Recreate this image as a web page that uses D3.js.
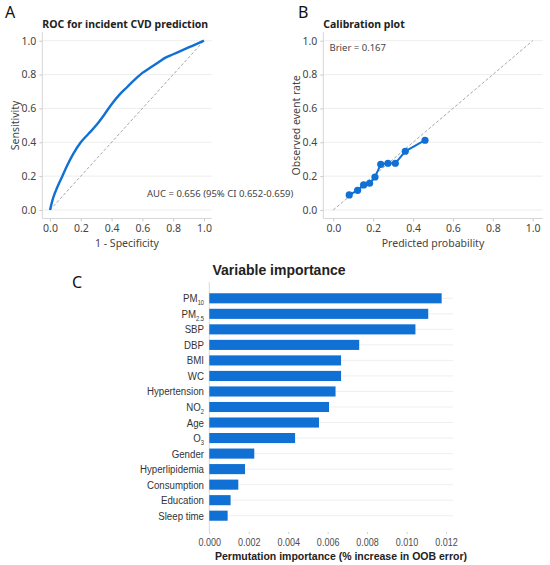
<!DOCTYPE html>
<html>
<head>
<meta charset="utf-8">
<script src="https://cdn.jsdelivr.net/npm/d3@7"></script>
<style>
  body { margin: 0; background: #fff; }
  svg { display: block; }
</style>
</head>
<body>
<div id="chart"></div>
<script>
// data
var rocFpr = [0, 0.02, 0.05, 0.08, 0.11, 0.15, 0.20, 0.25, 0.30, 0.35, 0.40, 0.45, 0.50, 0.55, 0.60, 0.65, 0.70, 0.75, 0.80, 0.85, 0.90, 0.95, 1];
var rocTpr = [0, 0.07, 0.14, 0.20, 0.26, 0.33, 0.40, 0.45, 0.50, 0.56, 0.625, 0.68, 0.725, 0.77, 0.81, 0.84, 0.87, 0.90, 0.92, 0.94, 0.96, 0.98, 1];

var calPred = [0.080, 0.122, 0.152, 0.182, 0.209, 0.238, 0.274, 0.311, 0.361, 0.460];
var calObs = [0.089, 0.116, 0.148, 0.158, 0.195, 0.270, 0.276, 0.276, 0.347, 0.412];

var unitTicks = [0, 0.2, 0.4, 0.6, 0.8, 1.0];

// variable importance (name + subscript)
var varNames = ["PM", "PM", "SBP", "DBP", "BMI", "WC", "Hypertension", "NO", "Age", "O", "Gender", "Hyperlipidemia", "Consumption", "Education", "Sleep time"];
var varSubs = ["10", "2.5", "", "", "", "", "", "2", "", "3", "", "", "", "", ""];
var varImportance = [0.01178, 0.0111, 0.01045, 0.0076, 0.00668, 0.00668, 0.0064, 0.00607, 0.00556, 0.00435, 0.00228, 0.00181, 0.00147, 0.00108, 0.00093];
var impTicks = [0, 0.002, 0.004, 0.006, 0.008, 0.010, 0.012];

var blue = "#1170d3";
var uiFont = "'Noto Sans', 'Open Sans', sans-serif";
var arial = "'Liberation Sans', Arial, sans-serif";

var svg = d3.select("#chart")
  .append("svg")
  .attr("width", 550)
  .attr("height", 565);

// frame shared by the two small panels
function smallPanel(x0, x1, opts) {
  var g = svg.append("g");
  var x = d3.scaleLinear().domain([0, 1]).range([x0, x1]);
  var y = d3.scaleLinear().domain([0, 1]).range([210, 40.7]);
  var padX = (x1 - x0) * 0.05;
  var padY = (210 - 40.7) * 0.05;
  var left = x0 - padX, right = x1 + padX, top = 40.7 - padY, bottom = 210 + padY;

  // gridlines
  g.selectAll(".grid")
    .data(unitTicks)
    .enter()
    .append("line")
    .attr("x1", left)
    .attr("x2", right)
    .attr("y1", d => y(d))
    .attr("y2", d => y(d))
    .attr("stroke", "#e9e9e9")
    .attr("stroke-width", 0.8);

  var leftAxis = d3.axisLeft(y).tickValues(unitTicks).tickFormat(d3.format(".1f")).tickSize(3).tickPadding(3);
  var bottomAxis = d3.axisBottom(x).tickValues(unitTicks).tickFormat(d3.format(".1f")).tickSize(3).tickPadding(3);

  var ya = g.append("g").attr("transform", `translate(${left},0)`).call(leftAxis);
  var xa = g.append("g").attr("transform", `translate(0,${bottom})`).call(bottomAxis);
  [ya, xa].forEach(function(a) {
    a.select(".domain").remove();
    a.selectAll("line").attr("stroke", "#c8c8c8");
    a.selectAll("text")
      .attr("fill", "#444")
      .style("font-family", uiFont)
      .style("font-size", "10.5px");
  });

  g.append("line")
    .attr("x1", left).attr("x2", left)
    .attr("y1", top).attr("y2", bottom)
    .attr("stroke", "#d6d6d6");
  g.append("line")
    .attr("x1", left).attr("x2", right)
    .attr("y1", bottom).attr("y2", bottom)
    .attr("stroke", "#d6d6d6");

  // reference diagonal
  g.append("line")
    .attr("x1", x(0)).attr("y1", y(0))
    .attr("x2", x(1)).attr("y2", y(1))
    .attr("stroke", "#8f8f8f")
    .attr("stroke-width", 0.8)
    .attr("stroke-dasharray", "3,2");

  // labels
  g.append("text")
    .attr("x", opts.letterX).attr("y", 18)
    .style("font-family", uiFont).style("font-size", "16px")
    .attr("fill", "#111")
    .text(opts.letter);
  g.append("text")
    .attr("x", left).attr("y", 28)
    .style("font-family", uiFont).style("font-size", "10.5px").style("font-weight", "bold")
    .attr("fill", "#222")
    .text(opts.title);
  g.append("text")
    .attr("x", (x0 + x1) / 2).attr("y", 247)
    .attr("text-anchor", "middle")
    .style("font-family", uiFont).style("font-size", "10.5px")
    .attr("fill", "#444")
    .text(opts.xLabel);
  g.append("text")
    .attr("transform", `translate(${opts.yLabelX},${(top + bottom) / 2}) rotate(-90)`)
    .attr("text-anchor", "middle")
    .style("font-family", uiFont).style("font-size", "10.5px")
    .attr("fill", "#444")
    .text(opts.yLabel);

  return { g: g, x: x, y: y };
}

// A: ROC
var a = smallPanel(50, 204, {
  letter: "A", letterX: 5, title: "ROC for incident CVD prediction",
  xLabel: "1 - Specificity", yLabel: "Sensitivity", yLabelX: 19
});
var rocLine = d3.line()
  .x((d, i) => a.x(rocFpr[i]))
  .y((d, i) => a.y(rocTpr[i]))
  .curve(d3.curveMonotoneX);
a.g.append("path")
  .datum(rocFpr)
  .attr("d", rocLine)
  .attr("fill", "none")
  .attr("stroke", blue)
  .attr("stroke-width", 2.4);
a.g.append("text")
  .attr("x", 147).attr("y", 197)
  .style("font-family", uiFont).style("font-size", "9.5px")
  .attr("fill", "#444")
  .text("AUC = 0.656 (95% CI 0.652-0.659)");

// B: calibration
var b = smallPanel(333.3, 532.7, {
  letter: "B", letterX: 298, title: "Calibration plot",
  xLabel: "Predicted probability", yLabel: "Observed event rate", yLabelX: 300
});
var calLine = d3.line()
  .x((d, i) => b.x(calPred[i]))
  .y((d, i) => b.y(calObs[i]));
b.g.append("path")
  .datum(calPred)
  .attr("d", calLine)
  .attr("fill", "none")
  .attr("stroke", blue)
  .attr("stroke-width", 2);
b.g.selectAll(".pt")
  .data(calPred)
  .enter()
  .append("circle")
  .attr("cx", (d, i) => b.x(calPred[i]))
  .attr("cy", (d, i) => b.y(calObs[i]))
  .attr("r", 3.6)
  .attr("fill", blue);
b.g.append("text")
  .attr("x", 329.5).attr("y", 51)
  .style("font-family", uiFont).style("font-size", "9.5px")
  .attr("fill", "#444")
  .text("Brier = 0.167");

// C: variable importance
var c = svg.append("g");
var xC = d3.scaleLinear().domain([0, 0.012]).range([209.3, 446]);
var yC = d3.scaleBand()
  .domain(d3.range(varNames.length))
  .range([282, 532])
  .paddingInner(0.35)
  .paddingOuter(0.725);

c.selectAll(".grid")
  .data(varNames)
  .enter()
  .append("line")
  .attr("x1", xC(0))
  .attr("x2", 453)
  .attr("y1", (d, i) => yC(i) + yC.bandwidth() / 2)
  .attr("y2", (d, i) => yC(i) + yC.bandwidth() / 2)
  .attr("stroke", "#ebebeb")
  .attr("stroke-width", 0.8);

c.append("line")
  .attr("x1", xC(0)).attr("x2", xC(0))
  .attr("y1", 282).attr("y2", 532)
  .attr("stroke", "#d9d9d9");

c.selectAll(".bar")
  .data(varImportance)
  .enter()
  .append("rect")
  .attr("x", xC(0))
  .attr("y", (d, i) => yC(i))
  .attr("width", d => xC(d) - xC(0))
  .attr("height", yC.bandwidth())
  .attr("fill", blue);

// category labels, with subscripts (narrowed like the original condensed face)
var labels = c.selectAll(".lab")
  .data(varNames)
  .enter()
  .append("text")
  .attr("transform", (d, i) => `translate(204,${yC(i) + yC.bandwidth() / 2 + 4}) scale(0.88,1)`)
  .attr("text-anchor", "end")
  .style("font-family", arial)
  .style("font-size", "11px")
  .attr("fill", "#333");
labels.append("tspan").text(d => d);
labels.each(function(d, i) {
  if (varSubs[i] === "") return;
  d3.select(this).append("tspan")
    .attr("dy", 3)
    .style("font-size", "6.5px")
    .text(varSubs[i]);
});

var bottomC = d3.axisBottom(xC).tickValues(impTicks).tickFormat(d3.format(".3f")).tickSize(2).tickPadding(5);
var xaC = c.append("g").attr("transform", "translate(0,532)").call(bottomC);
xaC.select(".domain").remove();
xaC.selectAll("line").attr("stroke", "#d0d0d0");
xaC.selectAll("text")
  .attr("fill", "#4d4d4d")
  .attr("transform", "scale(0.86,1)")
  .style("font-family", arial)
  .style("font-size", "10.5px");

c.append("text")
  .attr("x", 341).attr("y", 560)
  .attr("text-anchor", "middle")
  .style("font-family", arial).style("font-size", "10.5px").style("font-weight", "bold")
  .attr("fill", "#222")
  .text("Permutation importance (% increase in OOB error)");

c.append("text")
  .attr("x", 279).attr("y", 275)
  .attr("text-anchor", "middle")
  .style("font-family", arial).style("font-size", "14px").style("font-weight", "bold")
  .attr("fill", "#222")
  .text("Variable importance");

c.append("text")
  .attr("x", 72).attr("y", 287.5)
  .style("font-family", uiFont).style("font-size", "16px")
  .attr("fill", "#111")
  .text("C");
</script>
</body>
</html>
